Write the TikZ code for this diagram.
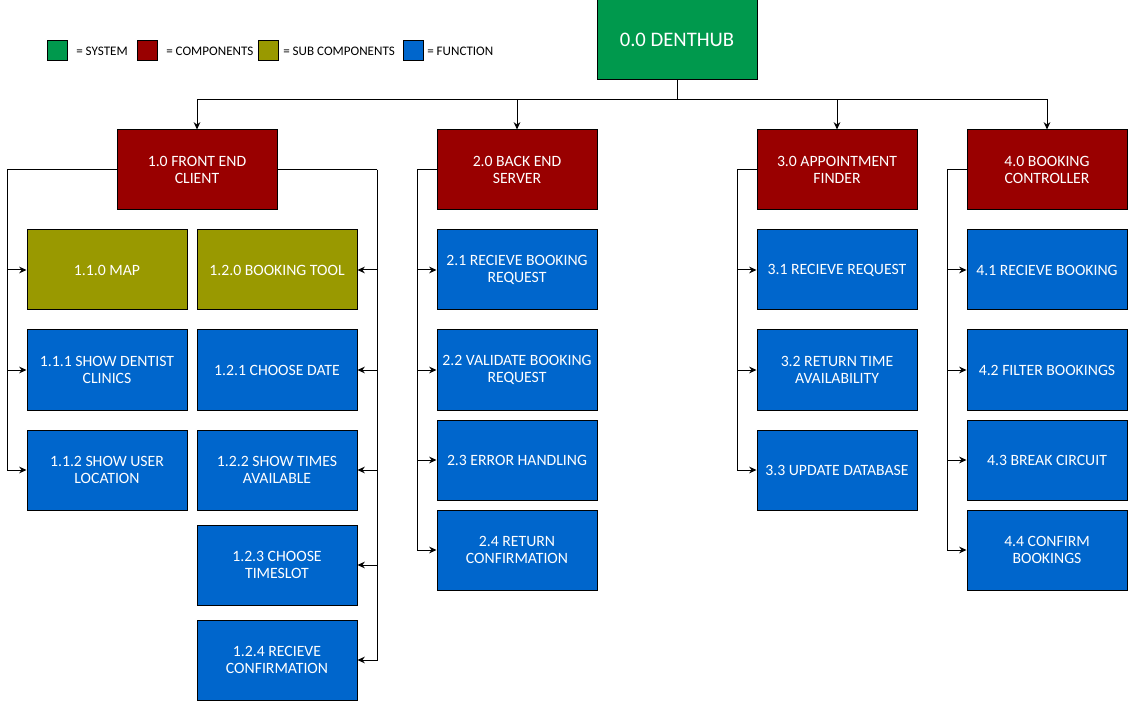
\documentclass[tikz,border=0pt]{standalone}
\usepackage{fontspec}
\setmainfont{Carlito}
\usepackage{xcolor}
\usetikzlibrary{arrows,arrows.meta,positioning,calc}
\definecolor{sysgreen}{RGB}{0,153,77}
\definecolor{compred}{RGB}{153,0,0}
\definecolor{subolive}{RGB}{153,153,0}
\definecolor{funcblue}{RGB}{0,102,204}
\tikzset{
  box/.style={draw=black,line width=0.75pt,text=white,align=center,minimum width=120pt,minimum height=60pt,inner sep=0pt,font=\fontsize{11.8}{12.75}\selectfont},
  sysbox/.style={box,fill=sysgreen,font=\fontsize{15.5}{18}\selectfont},
  compbox/.style={box,fill=compred},
  subbox/.style={box,fill=subolive},
  funcbox/.style={box,fill=funcblue},
  key/.style={draw=black,line width=0.75pt,minimum size=15pt,inner sep=0pt},
  keytext/.style={anchor=west,inner sep=0pt,font=\fontsize{9.8}{11}\selectfont},
  link/.style={draw,line width=0.75pt,-{Stealth[length=5.5pt,width=5pt]}},
  wire/.style={draw,line width=0.75pt}
}
\begin{document}
\begin{tikzpicture}[x=0.75pt,y=-0.75pt]
\useasboundingbox (0,0) rectangle (1128,702);
% legend
\node[key,fill=sysgreen] (ksys) at (57.5,50.5) {};
\node[keytext] (tsys) at (76,51) {= SYSTEM};
\node[key,fill=compred] (kcomp) at (147.5,50.5) {};
\node[keytext] (tcomp) at (166,51) {= COMPONENTS};
\node[key,fill=subolive] (ksub) at (268.5,50.5) {};
\node[keytext] (tsub) at (283,51) {= SUB COMPONENTS};
\node[key,fill=funcblue] (kfunc) at (413.5,50.5) {};
\node[keytext] (tfunc) at (427,51) {= FUNCTION};
% system
\node[sysbox] (dh) at (677,40) {0.0 DENTHUB};
% components
\node[compbox] (fe) at (197,170) {1.0 FRONT END\\CLIENT};
\node[compbox] (be) at (517,170) {2.0 BACK END\\SERVER};
\node[compbox] (af) at (837,170) {3.0 APPOINTMENT\\FINDER};
\node[compbox] (bc) at (1047,170) {4.0 BOOKING\\CONTROLLER};
% front end
\node[subbox] (map) at (107,270) {1.1.0 MAP};
\node[funcbox] (clinics) at (107,370) {1.1.1 SHOW DENTIST\\CLINICS};
\node[funcbox] (userloc) at (107,470) {1.1.2 SHOW USER\\LOCATION};
\node[subbox] (tool) at (277,270) {1.2.0 BOOKING TOOL};
\node[funcbox] (date) at (277,370) {1.2.1 CHOOSE DATE};
\node[funcbox] (times) at (277,470) {1.2.2 SHOW TIMES\\AVAILABLE};
\node[funcbox] (slot) at (277,565) {1.2.3 CHOOSE\\TIMESLOT};
\node[funcbox] (conf) at (277,660) {1.2.4 RECIEVE\\CONFIRMATION};
% back end
\node[funcbox] (breq) at (517,270) {2.1 RECIEVE BOOKING\\REQUEST};
\node[funcbox] (valid) at (517,370) {2.2 VALIDATE BOOKING\\REQUEST};
\node[funcbox] (err) at (517,460) {2.3 ERROR HANDLING};
\node[funcbox] (rconf) at (517,550) {2.4 RETURN\\CONFIRMATION};
% appointment finder
\node[funcbox] (req) at (837,270) {3.1 RECIEVE REQUEST};
\node[funcbox] (avail) at (837,370) {3.2 RETURN TIME\\AVAILABILITY};
\node[funcbox] (db) at (837,470) {3.3 UPDATE DATABASE};
% booking controller
\node[funcbox] (rbook) at (1047,270) {4.1 RECIEVE BOOKING};
\node[funcbox] (filter) at (1047,370) {4.2 FILTER BOOKINGS};
\node[funcbox] (circuit) at (1047,460) {4.3 BREAK CIRCUIT};
\node[funcbox] (cbook) at (1047,550) {4.4 CONFIRM\\BOOKINGS};
% bus from the system
\coordinate (bus) at (677,100);
\draw[wire] (dh.south) -- (bus);
\foreach \c in {fe,be,af,bc}
  \draw[link] (bus) -| (\c.north);
% side rails
\coordinate (feL) at (7,170);
\coordinate (feR) at (377,170);
\coordinate (beL) at (417,170);
\coordinate (afL) at (737,170);
\coordinate (bcL) at (947,170);
\draw[wire] (fe.west) -- (feL);
\draw[wire] (fe.east) -- (feR);
\draw[wire] (be.west) -- (beL);
\draw[wire] (af.west) -- (afL);
\draw[wire] (bc.west) -- (bcL);
\foreach \t in {map,clinics,userloc}
  \draw[link] (feL) |- (\t.west);
\foreach \t in {tool,date,times,slot,conf}
  \draw[link] (feR) |- (\t.east);
\foreach \t in {breq,valid,err,rconf}
  \draw[link] (beL) |- (\t.west);
\foreach \t in {req,avail,db}
  \draw[link] (afL) |- (\t.west);
\foreach \t in {rbook,filter,circuit,cbook}
  \draw[link] (bcL) |- (\t.west);
\end{tikzpicture}
\end{document}
